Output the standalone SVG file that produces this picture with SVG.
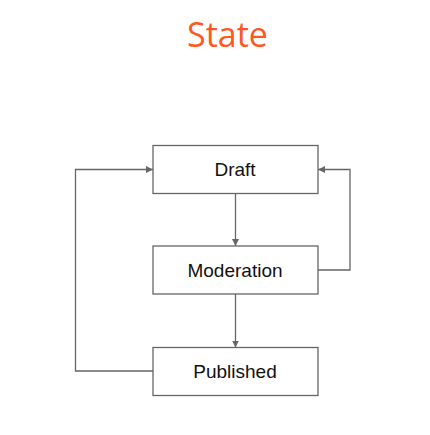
<svg xmlns="http://www.w3.org/2000/svg" width="430" height="435" viewBox="0 0 430 435">
<style>
.box{fill:#fff;stroke:#666;stroke-width:1.3}
.lbl{font-family:"Liberation Sans",Arial,sans-serif;font-size:19px;fill:#111;text-anchor:middle}
.edge{fill:none;stroke:#666;stroke-width:1.3}
.title{font-family:"Open Sans",sans-serif;font-size:34px;fill:#FF5722;text-anchor:middle}
</style>
<defs>
<marker id="arr" viewBox="0 0 10 10" refX="10" refY="5" markerWidth="7" markerHeight="7" orient="auto" markerUnits="userSpaceOnUse">
<path d="M0,0 L10,5 L0,10 z" fill="#666"/>
</marker>
</defs>
<rect width="430" height="435" fill="#fff"/>
<text class="title" x="227.5" y="47">State</text>
<g id="connectors">
<path class="edge" d="M235.5,193.5 V246" marker-end="url(#arr)"/>
<path class="edge" d="M235.5,294 V347.5" marker-end="url(#arr)"/>
<path class="edge" d="M153,371 H75.5 V169.5 H153" marker-end="url(#arr)"/>
<path class="edge" d="M318,270 H350 V169.5 H318" marker-end="url(#arr)"/>
</g>
<g id="draft">
<rect class="box" x="153" y="145.5" width="165" height="48"/>
<text class="lbl" x="235" y="176">Draft</text>
</g>
<g id="moderation">
<rect class="box" x="153" y="246" width="165" height="48"/>
<text class="lbl" x="235" y="276.5">Moderation</text>
</g>
<g id="published">
<rect class="box" x="153" y="347.5" width="165" height="48"/>
<text class="lbl" x="235" y="377.5">Published</text>
</g>
</svg>
